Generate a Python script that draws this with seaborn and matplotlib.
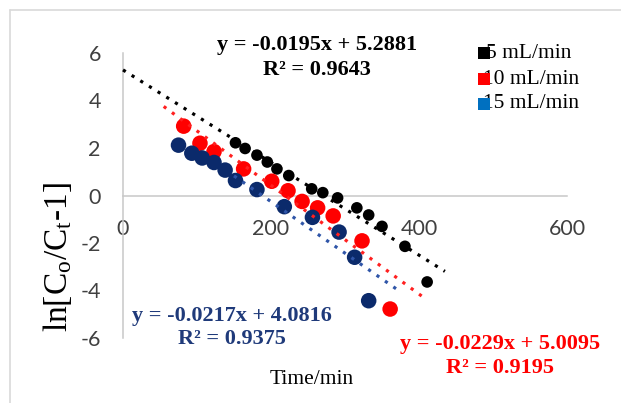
import matplotlib
matplotlib.use("Agg")
import matplotlib.pyplot as plt
import seaborn as sns
import numpy as np
import pandas as pd
from matplotlib.lines import Line2D
from matplotlib.patches import Rectangle

# ---------------- data ----------------
series_names = ["5 mL/min", "10 mL/min", "15 mL/min"]

t_5 = [152, 165, 181, 195, 208, 224, 255, 270, 290, 316, 332, 350, 381, 411]
y_5 = [2.22, 1.98, 1.70, 1.41, 1.12, 0.84, 0.28, 0.12, -0.10, -0.52, -0.82, -1.30, -2.14, -3.64]

t_10 = [82, 104, 123, 163, 201, 223, 242, 263, 284, 323, 361]
y_10 = [2.92, 2.20, 1.85, 1.12, 0.60, 0.20, -0.25, -0.52, -0.86, -1.91, -4.78]

t_15 = [75, 93, 107, 123, 138, 152, 181, 218, 256, 292, 313, 332]
y_15 = [2.12, 1.78, 1.58, 1.39, 1.07, 0.63, 0.25, -0.47, -0.92, -1.54, -2.60, -4.43]

slopes = [-0.0195, -0.0229, -0.0217]
intercepts = [5.2881, 5.0095, 4.0816]
r2_values = [0.9643, 0.9195, 0.9375]
trend_x_start = [0, 55, 150]
trend_x_end = [435, 410, 374]

x_ticks = [0, 200, 400, 600]
y_ticks = [-6, -4, -2, 0, 2, 4, 6]

# ---------------- styles ----------------
point_colors = ["#000000", "#FF0000", "#0B2A6B"]
trend_colors = ["#000000", "#FF2020", "#2F55A8"]
legend_colors = ["#000000", "#FF0000", "#0070C0"]
text_colors = ["#000000", "#FF0000", "#1F3A7A"]
point_sizes = [70, 125, 125]

df = pd.concat([
    pd.DataFrame({"t": t_5, "y": y_5, "series": series_names[0]}),
    pd.DataFrame({"t": t_10, "y": y_10, "series": series_names[1]}),
    pd.DataFrame({"t": t_15, "y": y_15, "series": series_names[2]}),
], ignore_index=True)

sns.set_theme(style="white")
plt.rcParams["mathtext.fontset"] = "custom"
plt.rcParams["mathtext.rm"] = "Liberation Serif"
plt.rcParams["mathtext.it"] = "Liberation Serif:italic"

W, H = 621, 403
fig = plt.figure(figsize=(W / 100, H / 100), dpi=100)
fig.patch.set_facecolor("white")

ax = fig.add_axes([123 / W, 1 - 338 / H, 444 / W, 285 / H])
ax.set_facecolor("white")

# points
for name, col, s in zip(series_names, point_colors, point_sizes):
    sub = df[df["series"] == name]
    sns.scatterplot(data=sub, x="t", y="y", color=col, s=s, edgecolor="none",
                    ax=ax, legend=False, zorder=3)

# trendlines
for m, b, x0, x1, col in zip(slopes, intercepts, trend_x_start, trend_x_end, trend_colors):
    xs = np.array([x0, x1], dtype=float)
    ax.plot(xs, m * xs + b, color=col, lw=2.3, linestyle=(0, (1, 2.2)),
            zorder=4, clip_on=False)

ax.set_xlim(0, 600)
ax.set_ylim(-6, 6)
ax.set_xticks(x_ticks)
ax.set_yticks(y_ticks)
ax.set_xticklabels([str(v) for v in x_ticks])
ax.set_yticklabels([str(v) for v in y_ticks])

for sp in ["top", "right"]:
    ax.spines[sp].set_visible(False)
ax.spines["bottom"].set_position(("data", 0))
ax.spines["left"].set_position(("data", 0))
for sp in ["bottom", "left"]:
    ax.spines[sp].set_color("#C8C8C8")
    ax.spines[sp].set_linewidth(1.1)

ax.tick_params(axis="x", length=0, pad=17, labelsize=15.5, labelcolor="#404040")
ax.tick_params(axis="y", length=0, pad=16, labelsize=15.5, labelcolor="#404040")
for lab in ax.get_xticklabels() + ax.get_yticklabels():
    lab.set_fontfamily("Lato")
ax.set_xlabel("")
ax.set_ylabel("")

# equations
eq_pos = [(262, 6.32, 5.28), (510, -6.26, -7.27), (147, -5.08, -6.05)]
for i, (xc, y1, y2) in enumerate(eq_pos):
    sign = "+" if intercepts[i] >= 0 else "-"
    ax.text(xc, y1, f"y = {slopes[i]:.4f}x {sign} {abs(intercepts[i]):.4f}",
            ha="center", va="center", fontsize=16, fontweight="bold",
            family="Liberation Serif", color=text_colors[i], clip_on=False)
    ax.text(xc, y2, f"R\u00b2 = {r2_values[i]:.4f}",
            ha="center", va="center", fontsize=16, fontweight="bold",
            family="Liberation Serif", color=text_colors[i], clip_on=False)

# axis titles
fig.text(57 / W, 1 - 257 / H, r"ln[C$_\mathrm{o}$/C$_\mathrm{t}$-1]", rotation=90,
         ha="center", va="center", fontsize=24, family="Liberation Serif", color="#000000")
fig.text(312 / W, 1 - 380 / H, "Time/min", ha="center", va="center",
         fontsize=15.5, family="Liberation Serif", color="#000000")

# legend (Excel style: square marker overlapping first character)
row_y = [53, 79, 104]
text_x = [486, 483, 483]
for name, col, ry, tx in zip(series_names, legend_colors, row_y, text_x):
    fig.text(tx / W, 1 - ry / H, name, ha="left", va="center", fontsize=15.5,
             family="Liberation Serif", color="#000000", zorder=5)
    fig.patches.append(Rectangle(((478) / W, 1 - (ry + 6) / H), 12 / W, 12 / H,
                                 transform=fig.transFigure, facecolor=col,
                                 edgecolor="none", zorder=6))

# chart-area border
fig.add_artist(Line2D([10 / W, 1], [1 - 10 / H, 1 - 10 / H], transform=fig.transFigure,
                      color="#D9D9D9", lw=1.2))
fig.add_artist(Line2D([10 / W, 10 / W], [0, 1 - 10 / H], transform=fig.transFigure,
                      color="#D9D9D9", lw=1.2))

fig.savefig("out.png", dpi=100)
